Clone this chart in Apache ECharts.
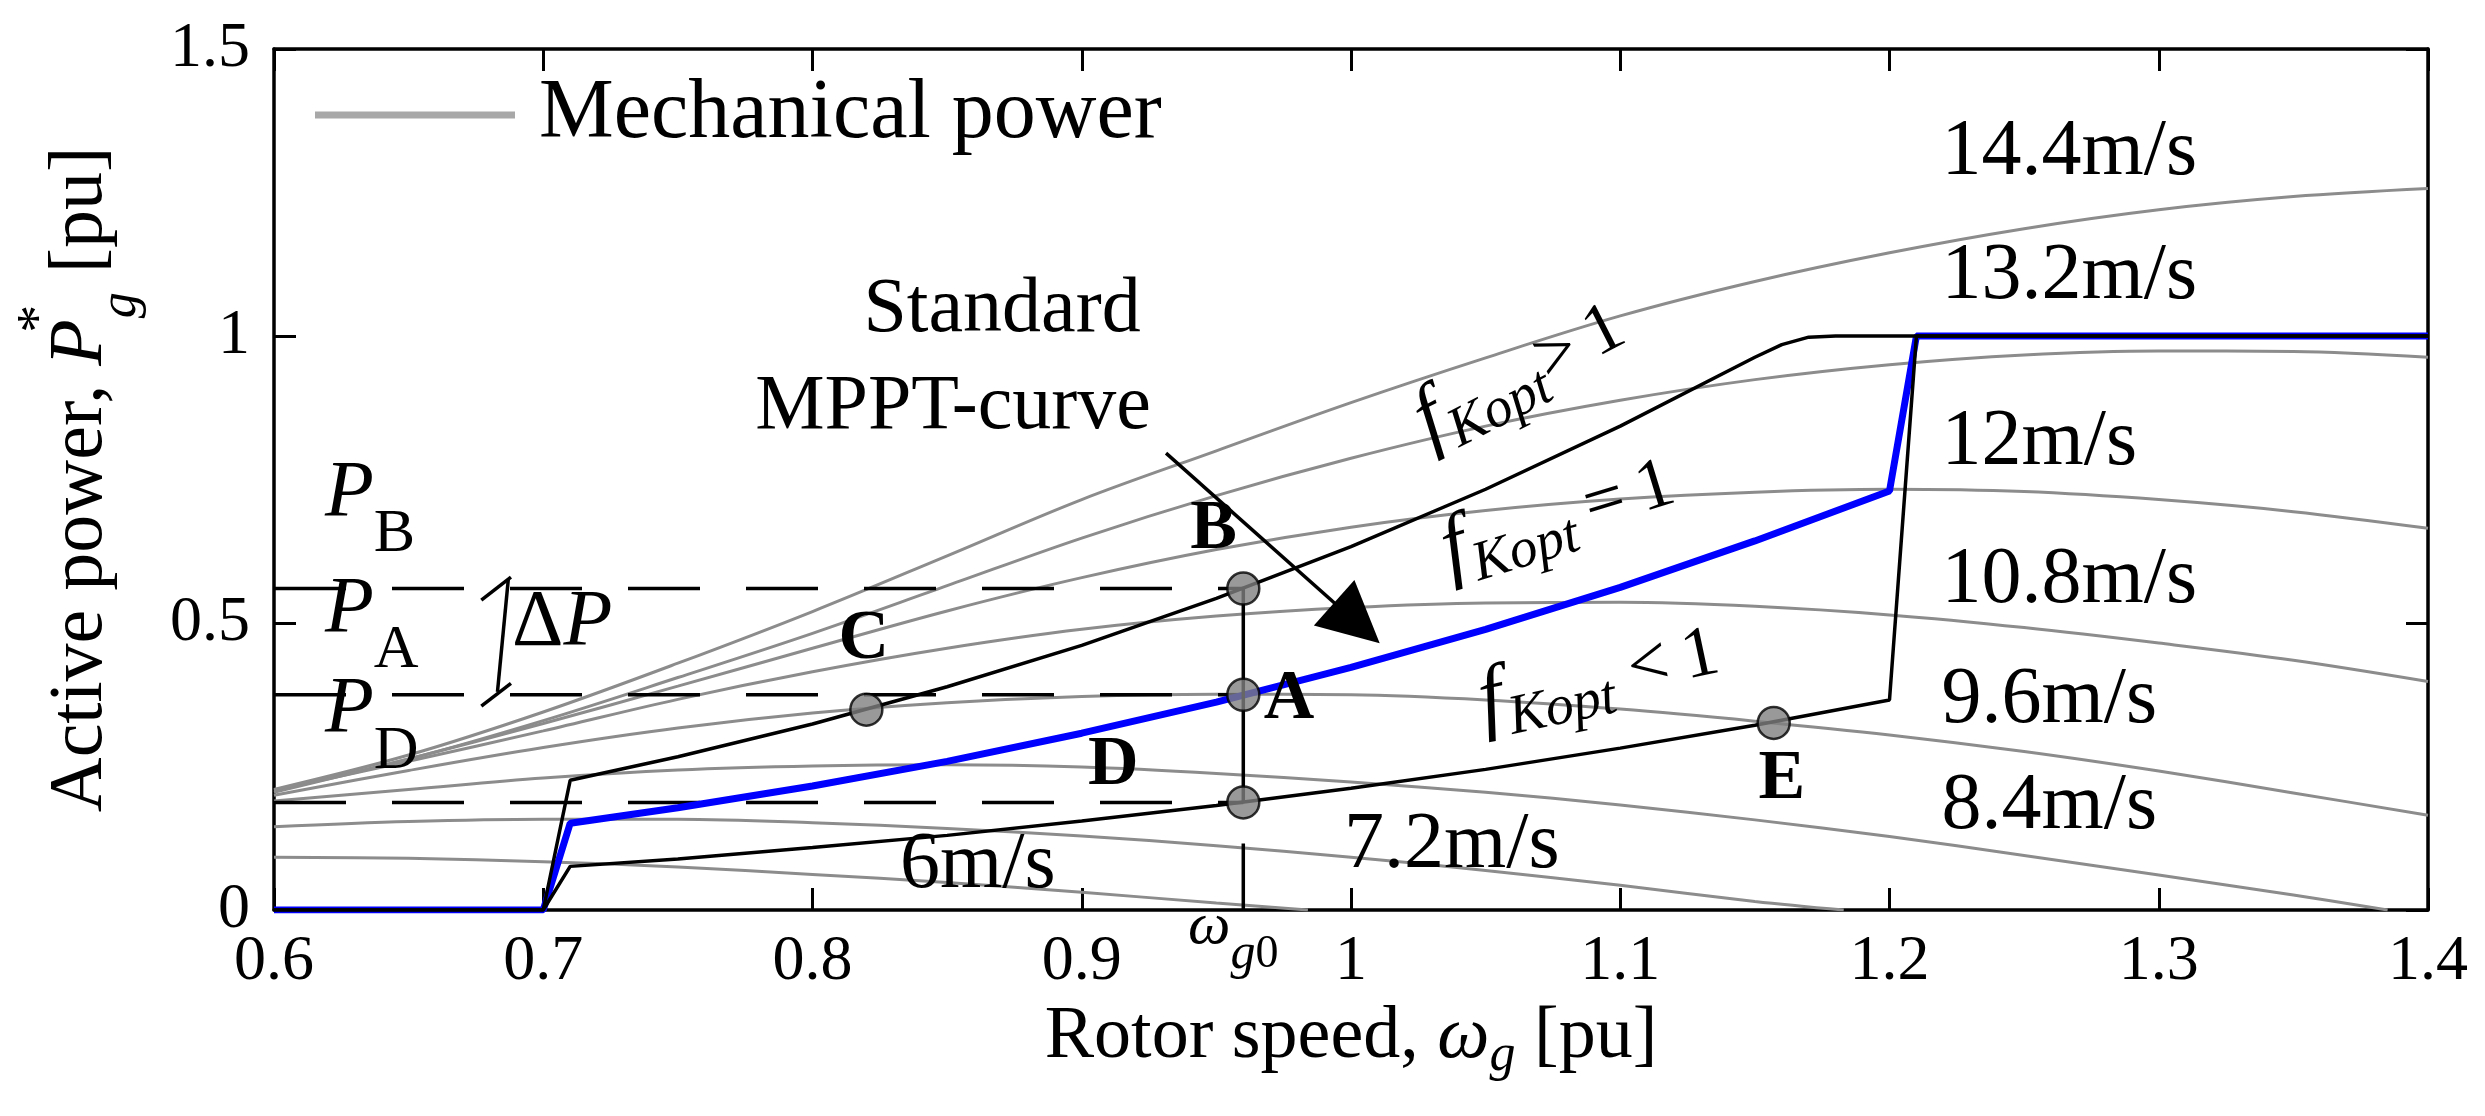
<!DOCTYPE html>
<html>
<head>
<meta charset="utf-8">
<script src="https://cdn.jsdelivr.net/npm/echarts/dist/echarts.min.js"></script>
<style>
html,body{margin:0;padding:0;background:#fff;}
#chart{width:2485px;height:1116px;}
</style>
</head>
<body>
<div id="chart"></div>
<script>
// ---------- data ----------
// Mechanical power curves [rotor speed pu, power pu] for each wind speed
const mech6   = [[0.60,0.092],[0.65,0.090],[0.70,0.084],[0.75,0.075],[0.80,0.062],[0.85,0.048],[0.90,0.031],[0.95,0.012],[0.984,0]];
const mech72  = [[0.60,0.145],[0.65,0.154],[0.70,0.158],[0.75,0.158],[0.80,0.152],[0.85,0.142],[0.90,0.129],[0.95,0.112],[1.00,0.092],[1.05,0.069],[1.10,0.043],[1.15,0.015],[1.183,0]];
const mech84  = [[0.60,0.190],[0.65,0.210],[0.70,0.230],[0.75,0.244],[0.80,0.251],[0.85,0.253],[0.90,0.249],[0.95,0.238],[1.00,0.223],[1.05,0.205],[1.10,0.183],[1.15,0.157],[1.20,0.128],[1.25,0.095],[1.30,0.061],[1.35,0.026],[1.385,0]];
const mech96  = [[0.60,0.200],[0.65,0.243],[0.70,0.283],[0.75,0.317],[0.80,0.343],[0.85,0.361],[0.90,0.372],[0.95,0.376],[1.00,0.375],[1.05,0.366],[1.10,0.350],[1.15,0.329],[1.20,0.305],[1.25,0.276],[1.30,0.242],[1.35,0.204],[1.40,0.165]];
const mech108 = [[0.60,0.208],[0.65,0.259],[0.70,0.312],[0.75,0.367],[0.80,0.415],[0.85,0.456],[0.90,0.489],[0.95,0.512],[1.00,0.527],[1.05,0.535],[1.10,0.536],[1.15,0.529],[1.20,0.514],[1.25,0.492],[1.30,0.465],[1.35,0.435],[1.40,0.398]];
const mech12  = [[0.60,0.205],[0.65,0.263],[0.70,0.325],[0.75,0.390],[0.80,0.456],[0.85,0.521],[0.90,0.579],[0.95,0.628],[1.00,0.667],[1.05,0.696],[1.10,0.716],[1.15,0.728],[1.20,0.733],[1.25,0.729],[1.30,0.715],[1.35,0.694],[1.40,0.665]];
const mech132 = [[0.60,0.209],[0.65,0.263],[0.70,0.330],[0.75,0.405],[0.80,0.482],[0.85,0.565],[0.90,0.648],[0.95,0.722],[1.00,0.787],[1.05,0.843],[1.10,0.888],[1.15,0.924],[1.20,0.950],[1.25,0.967],[1.30,0.974],[1.35,0.973],[1.40,0.963]];
const mech144 = [[0.60,0.210],[0.65,0.270],[0.70,0.345],[0.75,0.430],[0.80,0.520],[0.85,0.617],[0.90,0.715],[0.95,0.800],[1.00,0.884],[1.05,0.962],[1.10,1.035],[1.15,1.095],[1.20,1.145],[1.25,1.187],[1.30,1.220],[1.35,1.243],[1.40,1.257]];
const mechCurves = [mech6, mech72, mech84, mech96, mech108, mech12, mech132, mech144];
const windLabels = ['6m/s','7.2m/s','8.4m/s','9.6m/s','10.8m/s','12m/s','13.2m/s','14.4m/s'];

// Control curves
const mpptStd  = [[0.60,0],[0.70,0],[0.71,0.151],[0.75,0.178],[0.80,0.216],[0.85,0.259],[0.90,0.308],[0.95,0.362],[1.00,0.4225],[1.05,0.489],[1.10,0.562],[1.15,0.643],[1.20,0.730],[1.21,1.0],[1.40,1.0]];
const mpptHigh = [[0.60,0],[0.70,0],[0.71,0.226],[0.75,0.267],[0.80,0.324],[0.85,0.389],[0.90,0.461],[0.95,0.543],[1.00,0.633],[1.05,0.733],[1.10,0.843],[1.15,0.963],[1.16,0.985],[1.17,0.998],[1.18,1.0],[1.40,1.0]];
const mpptLow  = [[0.60,0],[0.70,0],[0.71,0.076],[0.75,0.089],[0.80,0.109],[0.85,0.130],[0.90,0.155],[0.95,0.182],[1.00,0.212],[1.05,0.245],[1.10,0.282],[1.15,0.322],[1.20,0.366],[1.21,1.0],[1.40,1.0]];

// Operating points
const pointNames = ['A','B','C','D','E'];
const pointOmega = [0.96, 0.96, 0.82, 0.96, 1.157];
const pointPower = [0.375, 0.56, 0.349, 0.1875, 0.326];

// Reference power levels P_B, P_A, P_D and speed omega_g0
const levelNames = ['B','A','D'];
const levelValues = [0.56, 0.375, 0.1875];
const omegaG0 = 0.96;
const omegaGapLow = 0.1157;

// Axis ticks
const xMin = 0.6, xMax = 1.4, xStep = 0.1;
const yMin = 0, yMax = 1.5, yStep = 0.5;

// ---------- annotation placement (positions in axis units) ----------
const FONT = '"Liberation Serif", "Times New Roman", serif';
const windLabelPos = [[0.8325,0.0767],[0.9974,0.1115],[1.2193,0.179],[1.2193,0.364],[1.2193,0.573],[1.2193,0.814],[1.2193,1.103],[1.2193,1.319]];
const pointLabelPos = {A:[0.977,0.366], B:[0.949,0.662], C:[0.819,0.471], D:[0.9117,0.251], E:[1.160,0.226]};
const levelLabelPos = {B:[0.6189,0.723], A:[0.6189,0.521], D:[0.6189,0.346]};

function tok(size, extra) {
  return Object.assign({fontFamily: FONT, fontSize: size, fill: '#000'}, extra || {});
}
const annList = [];
function ann(x, y, text, o) {
  o = o || {};
  annList.push({x: x, y: y, text: text, align: o.align || 'center', rotate: o.rotate || 0,
    size: o.size || 80, weight: o.weight || 'normal', rich: o.rich || null});
}
windLabels.forEach((t, i) => ann(windLabelPos[i][0], windLabelPos[i][1], t, {align: 'left', size: 80}));
pointNames.forEach(n => ann(pointLabelPos[n][0], pointLabelPos[n][1], n, {size: 70, weight: 'bold'}));
const pRich = {p: tok(80, {fontStyle: 'italic'}), s: tok(62, {padding: [80, 0, 0, 0]})};
levelNames.forEach(n => ann(levelLabelPos[n][0], levelLabelPos[n][1], '{p|P}{s|' + n + '}', {align: 'left', rich: pRich}));
ann(0.6884, 0.498, '{d|Δ}{p|P}', {align: 'left', rich: {d: tok(80), p: tok(80, {fontStyle: 'italic'})}});
ann(0.8704, 1.045, 'Standard', {size: 78});
ann(0.8522, 0.8746, 'MPPT-curve', {size: 78});
const fRich = {
  f: tok(84, {fontStyle: 'italic'}),
  k: tok(56, {fontStyle: 'italic', padding: [44, 0, 0, 2]}),
  o: tok(72)
};
ann(1.0628, 0.932, '{f|f}{k|Kopt}{o|>\u20091}', {rotate: 27, rich: fRich});
ann(1.0769, 0.683, '{f|f}{k|Kopt}{o|\u2009=\u20091}', {rotate: 17, rich: fRich});
ann(1.0921, 0.404, '{f|f}{k|Kopt}{o| <\u20091}', {rotate: 12, rich: fRich});
ann(0.9395, -0.0296, '{w|ω}{g|g}{z|0}', {align: 'left', rich: {
  w: tok(60, {fontStyle: 'italic'}),
  g: tok(50, {fontStyle: 'italic', padding: [56, 0, 0, 0]}),
  z: tok(46, {padding: [56, 0, 0, 0]})
}});

// ---------- series ----------
const series = [];
mechCurves.forEach(d => series.push({
  type: 'line', name: 'Mechanical power', data: d, symbol: 'none', smooth: 0.35,
  lineStyle: {color: '#8c8c8c', width: 3}, itemStyle: {color: '#a8a8a8'}, z: 2, silent: true
}));
levelValues.forEach(v => series.push({
  type: 'line', data: [[xMin, v], [omegaG0, v]], symbol: 'none',
  lineStyle: {color: '#000', width: 3.5, type: [72, 46]}, z: 3, silent: true
}));
series.push({type: 'line', data: mpptStd, symbol: 'none', lineStyle: {color: '#0000ff', width: 7}, z: 4, silent: true});
series.push({type: 'line', data: mpptHigh, symbol: 'none', lineStyle: {color: '#000', width: 3.5}, z: 5, silent: true});
series.push({type: 'line', data: mpptLow, symbol: 'none', lineStyle: {color: '#000', width: 3.5}, z: 5, silent: true});
series.push({type: 'line', data: [[omegaG0, levelValues[0]], [omegaG0, levelValues[2]]], symbol: 'none', lineStyle: {color: '#000', width: 3.5}, z: 5, silent: true});
series.push({type: 'line', data: [[omegaG0, omegaGapLow], [omegaG0, 0]], symbol: 'none', lineStyle: {color: '#000', width: 3.5}, z: 5, silent: true});
// Delta P bracket
series.push({
  type: 'lines', coordinateSystem: 'cartesian2d', z: 5, silent: true,
  lineStyle: {color: '#000', width: 3.5, opacity: 1},
  data: [
    {coords: [[0.677, 0.540], [0.688, 0.580]]},
    {coords: [[0.687, 0.575], [0.683, 0.380]]},
    {coords: [[0.677, 0.355], [0.688, 0.395]]}
  ]
});
// Arrow pointing at the standard MPPT curve
series.push({
  type: 'lines', coordinateSystem: 'cartesian2d', z: 6, silent: true,
  symbol: ['none', 'triangle'], symbolSize: 61,
  lineStyle: {color: '#000', width: 3.5, opacity: 1},
  itemStyle: {color: '#000'},
  data: [{coords: [[0.9313, 0.796], [1.0022, 0.500]]}]
});
series.push({
  type: 'scatter', data: pointOmega.map((w, i) => [w, pointPower[i]]),
  symbol: 'circle', symbolSize: 32, z: 7, silent: true,
  itemStyle: {color: '#808080', borderColor: '#000', borderWidth: 2.5}
});
// Text annotations placed through the axes' scales
series.push({
  type: 'custom', coordinateSystem: 'cartesian2d', z: 8, silent: true, clip: false,
  data: annList.map((a, i) => [a.x, a.y, i]),
  renderItem: function (params, api) {
    const a = annList[params.dataIndex];
    const p = api.coord([api.value(0), api.value(1)]);
    const style = {
      text: a.text, fill: '#000', fontFamily: FONT, fontSize: a.size, fontWeight: a.weight,
      align: a.align, verticalAlign: 'middle'
    };
    if (a.rich) style.rich = a.rich;
    return {type: 'text', x: p[0], y: p[1], rotation: a.rotate * Math.PI / 180, style: style};
  }
});

const axisCommon = {
  axisLine: {show: true, onZero: false, lineStyle: {color: '#000', width: 3.5}},
  axisTick: {show: true, inside: true, length: 22, lineStyle: {color: '#000', width: 3}},
  splitLine: {show: false}
};

const option = {
  animation: false,
  backgroundColor: '#fff',
  grid: {left: 274, right: 57, top: 49, bottom: 206, containLabel: false},
  legend: {
    data: [{name: 'Mechanical power', icon: 'rect'}],
    left: 310, top: 68, itemWidth: 200, itemHeight: 7, selectedMode: false,
    textStyle: {fontFamily: FONT, fontSize: 84, color: '#000', padding: [26, 0, 0, 19]}
  },
  xAxis: [
    Object.assign({}, axisCommon, {
      type: 'value', min: xMin, max: xMax, interval: xStep, position: 'bottom',
      axisLabel: {fontFamily: FONT, fontSize: 64, color: '#000', margin: 20},
      name: 'Rotor speed, {w|ω}{s|g} [pu]', nameLocation: 'middle', nameGap: 84,
      nameTextStyle: {fontFamily: FONT, fontSize: 74, color: '#000', rich: {
        w: {fontFamily: FONT, fontSize: 74, fontStyle: 'italic', color: '#000'},
        s: {fontFamily: FONT, fontSize: 52, fontStyle: 'italic', color: '#000', padding: [36, 0, 0, 0]}
      }}
    }),
    Object.assign({}, axisCommon, {
      type: 'value', min: xMin, max: xMax, interval: xStep, position: 'top',
      axisLabel: {show: false}
    })
  ],
  yAxis: [
    Object.assign({}, axisCommon, {
      type: 'value', min: yMin, max: yMax, interval: yStep, position: 'left',
      axisLabel: {fontFamily: FONT, fontSize: 64, color: '#000', margin: 24},
      name: 'Active power, {p|P}{sup|*}{sub|g} [pu]', nameLocation: 'middle', nameGap: 125,
      nameTextStyle: {fontFamily: FONT, fontSize: 76, color: '#000', rich: {
        p: {fontFamily: FONT, fontSize: 76, fontStyle: 'italic', color: '#000'},
        sup: {fontFamily: FONT, fontSize: 56, color: '#000', padding: [0, 0, 80, 0], width: 1},
        sub: {fontFamily: FONT, fontSize: 52, fontStyle: 'italic', color: '#000', padding: [80, 0, 0, 0]}
      }}
    }),
    Object.assign({}, axisCommon, {
      type: 'value', min: yMin, max: yMax, interval: yStep, position: 'right',
      axisLabel: {show: false}
    })
  ],
  series: series
};

const chart = echarts.init(document.getElementById('chart'), null, {renderer: 'canvas'});
chart.setOption(option);
</script>
</body>
</html>
